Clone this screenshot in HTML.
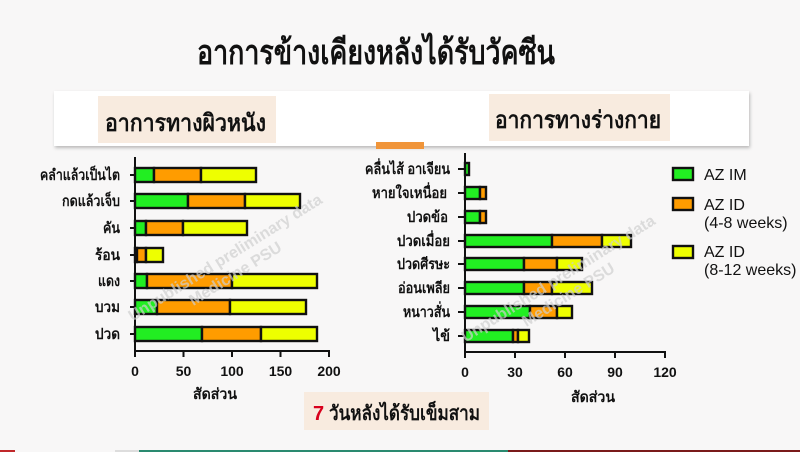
<!DOCTYPE html>
<html><head><meta charset="utf-8"><style>
html,body{margin:0;padding:0;background:#f8f7f7;}
svg{display:block;}
.th{font-family:"Liberation Sans","Noto Sans CJK SC",sans-serif;}
.thb{font-family:"Liberation Sans","Noto Sans CJK SC",sans-serif;font-weight:bold;}
.num{font-family:"Liberation Sans",sans-serif;font-weight:bold;font-size:14px;fill:#111;}
.lg{font-family:"Liberation Sans",sans-serif;font-size:16px;fill:#111;}
.wm{font-family:"Liberation Sans",sans-serif;font-weight:bold;font-size:16px;fill:#cfcfcf;fill-opacity:0.7;}
</style></head><body>
<svg width="800" height="452" viewBox="0 0 800 452" xmlns="http://www.w3.org/2000/svg">
<defs>
<filter id="sh" x="-5%" y="-20%" width="110%" height="150%">
<feDropShadow dx="1" dy="2" stdDeviation="1.5" flood-color="#000" flood-opacity="0.25"/>
</filter>
</defs>
<rect x="0" y="0" width="800" height="452" fill="#f8f7f7"/>

<!-- title -->
<text class="thb" x="197" y="64" font-size="34" fill="#111" textLength="358" lengthAdjust="spacingAndGlyphs">อาการข้างเคียงหลังได้รับวัคซีน</text>

<!-- header panel -->
<rect x="54" y="91" width="695" height="55" fill="#ffffff" filter="url(#sh)"/>
<rect x="98" y="96" width="178" height="47" fill="#f8ebdf"/>
<text class="thb" x="105" y="131" font-size="24" fill="#111" textLength="161" lengthAdjust="spacingAndGlyphs">อาการทางผิวหนัง</text>
<rect x="489" y="94" width="181" height="47" fill="#f8ebdf"/>
<text class="thb" x="495" y="128" font-size="24" fill="#111" textLength="166" lengthAdjust="spacingAndGlyphs">อาการทางร่างกาย</text>
<rect x="376" y="142" width="48" height="7" fill="#f0953a"/>

<!-- LEFT CHART -->
<g stroke="#111" stroke-width="2.4">
<rect x="135" y="168" width="19" height="14" fill="#22ee22"/>
<rect x="154" y="168" width="47" height="14" fill="#ff9c00"/>
<rect x="201" y="168" width="55" height="14" fill="#eeff00"/>
<rect x="135" y="194" width="53" height="14" fill="#22ee22"/>
<rect x="188" y="194" width="57" height="14" fill="#ff9c00"/>
<rect x="245" y="194" width="55" height="14" fill="#eeff00"/>
<rect x="135" y="221" width="11" height="14" fill="#22ee22"/>
<rect x="146" y="221" width="37" height="14" fill="#ff9c00"/>
<rect x="183" y="221" width="64" height="14" fill="#eeff00"/>
<rect x="135" y="248" width="2" height="14" fill="#22ee22"/>
<rect x="137" y="248" width="9" height="14" fill="#ff9c00"/>
<rect x="146" y="248" width="17" height="14" fill="#eeff00"/>
<rect x="135" y="274" width="12" height="14" fill="#22ee22"/>
<rect x="147" y="274" width="85" height="14" fill="#ff9c00"/>
<rect x="232" y="274" width="85" height="14" fill="#eeff00"/>
<rect x="135" y="300" width="22" height="14" fill="#22ee22"/>
<rect x="157" y="300" width="73" height="14" fill="#ff9c00"/>
<rect x="230" y="300" width="76" height="14" fill="#eeff00"/>
<rect x="135" y="327" width="67" height="14" fill="#22ee22"/>
<rect x="202" y="327" width="59" height="14" fill="#ff9c00"/>
<rect x="261" y="327" width="56" height="14" fill="#eeff00"/>
</g>
<g stroke="#111" stroke-width="2" fill="none">
<line x1="135" y1="157" x2="135" y2="351"/>
<line x1="134" y1="351" x2="330" y2="351"/>
<line x1="135" y1="351" x2="135" y2="357"/>
<line x1="183.5" y1="351" x2="183.5" y2="357"/>
<line x1="232" y1="351" x2="232" y2="357"/>
<line x1="280.5" y1="351" x2="280.5" y2="357"/>
<line x1="329" y1="351" x2="329" y2="357"/>
<line x1="130" y1="175" x2="135" y2="175"/>
<line x1="130" y1="201" x2="135" y2="201"/>
<line x1="130" y1="228" x2="135" y2="228"/>
<line x1="130" y1="255" x2="135" y2="255"/>
<line x1="130" y1="281" x2="135" y2="281"/>
<line x1="130" y1="307" x2="135" y2="307"/>
<line x1="130" y1="334" x2="135" y2="334"/>
</g>
<g class="num" text-anchor="middle">
<text x="135" y="376">0</text>
<text x="183.5" y="376">50</text>
<text x="232" y="376">100</text>
<text x="280.5" y="376">150</text>
<text x="329" y="376">200</text>
</g>
<g class="thb" font-size="15" fill="#111">
<text x="40" y="180" textLength="80" lengthAdjust="spacingAndGlyphs">คลำแล้วเป็นไต</text>
<text x="62" y="206" textLength="58" lengthAdjust="spacingAndGlyphs">กดแล้วเจ็บ</text>
<text x="103" y="233" textLength="17" lengthAdjust="spacingAndGlyphs">คัน</text>
<text x="95" y="260" textLength="25" lengthAdjust="spacingAndGlyphs">ร้อน</text>
<text x="98" y="286" textLength="22" lengthAdjust="spacingAndGlyphs">แดง</text>
<text x="95" y="312" textLength="25" lengthAdjust="spacingAndGlyphs">บวม</text>
<text x="95" y="339" textLength="25" lengthAdjust="spacingAndGlyphs">ปวด</text>
</g>
<text class="thb" x="193" y="399" font-size="15" fill="#111" textLength="44" lengthAdjust="spacingAndGlyphs">สัดส่วน</text>

<!-- RIGHT CHART -->
<g stroke="#111" stroke-width="2.4">
<rect x="465" y="163" width="4" height="12" fill="#22ee22"/>
<rect x="465" y="187" width="15" height="12" fill="#22ee22"/>
<rect x="480" y="187" width="6" height="12" fill="#ff9c00"/>
<rect x="465" y="211" width="15" height="12" fill="#22ee22"/>
<rect x="480" y="211" width="6" height="12" fill="#ff9c00"/>
<rect x="465" y="235" width="87" height="12" fill="#22ee22"/>
<rect x="552" y="235" width="50" height="12" fill="#ff9c00"/>
<rect x="602" y="235" width="29" height="12" fill="#eeff00"/>
<rect x="465" y="258" width="59" height="12" fill="#22ee22"/>
<rect x="524" y="258" width="33" height="12" fill="#ff9c00"/>
<rect x="557" y="258" width="25" height="12" fill="#eeff00"/>
<rect x="465" y="282" width="59" height="12" fill="#22ee22"/>
<rect x="524" y="282" width="28" height="12" fill="#ff9c00"/>
<rect x="552" y="282" width="40" height="12" fill="#eeff00"/>
<rect x="465" y="306" width="65" height="12" fill="#22ee22"/>
<rect x="530" y="306" width="27" height="12" fill="#ff9c00"/>
<rect x="557" y="306" width="15" height="12" fill="#eeff00"/>
<rect x="465" y="330" width="48" height="12" fill="#22ee22"/>
<rect x="513" y="330" width="5" height="12" fill="#ff9c00"/>
<rect x="518" y="330" width="11" height="12" fill="#eeff00"/>
</g>
<g stroke="#111" stroke-width="2" fill="none">
<line x1="465" y1="153" x2="465" y2="352"/>
<line x1="464" y1="352" x2="666" y2="352"/>
<line x1="465" y1="352" x2="465" y2="358"/>
<line x1="515" y1="352" x2="515" y2="358"/>
<line x1="565" y1="352" x2="565" y2="358"/>
<line x1="615" y1="352" x2="615" y2="358"/>
<line x1="665" y1="352" x2="665" y2="358"/>
<line x1="458" y1="169" x2="465" y2="169"/>
<line x1="458" y1="193" x2="465" y2="193"/>
<line x1="458" y1="217" x2="465" y2="217"/>
<line x1="458" y1="241" x2="465" y2="241"/>
<line x1="458" y1="264" x2="465" y2="264"/>
<line x1="458" y1="288" x2="465" y2="288"/>
<line x1="458" y1="312" x2="465" y2="312"/>
<line x1="458" y1="336" x2="465" y2="336"/>
</g>
<g class="num" text-anchor="middle">
<text x="465" y="377">0</text>
<text x="515" y="377">30</text>
<text x="565" y="377">60</text>
<text x="615" y="377">90</text>
<text x="665" y="377">120</text>
</g>
<g class="thb" font-size="15" fill="#111">
<text x="365" y="174" textLength="85" lengthAdjust="spacingAndGlyphs">คลื่นไส้ อาเจียน</text>
<text x="372" y="198" textLength="75" lengthAdjust="spacingAndGlyphs">หายใจเหนื่อย</text>
<text x="407" y="222" textLength="41" lengthAdjust="spacingAndGlyphs">ปวดข้อ</text>
<text x="397" y="246" textLength="53" lengthAdjust="spacingAndGlyphs">ปวดเมื่อย</text>
<text x="397" y="269" textLength="53" lengthAdjust="spacingAndGlyphs">ปวดศีรษะ</text>
<text x="398" y="293" textLength="52" lengthAdjust="spacingAndGlyphs">อ่อนเพลีย</text>
<text x="403" y="317" textLength="47" lengthAdjust="spacingAndGlyphs">หนาวสั่น</text>
<text x="433" y="341" textLength="17" lengthAdjust="spacingAndGlyphs">ไข้</text>
</g>
<text class="thb" x="571" y="402" font-size="15" fill="#111" textLength="44" lengthAdjust="spacingAndGlyphs">สัดส่วน</text>

<!-- legend -->
<g stroke="#111" stroke-width="2.4">
<rect x="673" y="168" width="20" height="12" fill="#22ee22"/>
<rect x="673" y="198" width="20" height="12" fill="#ff9c00"/>
<rect x="673" y="246" width="20" height="12" fill="#eeff00"/>
</g>
<text class="lg" x="704" y="180">AZ IM</text>
<text class="lg" x="704" y="210">AZ ID</text>
<text class="lg" x="704" y="228" font-size="15.5">(4-8 weeks)</text>
<text class="lg" x="704" y="257">AZ ID</text>
<text class="lg" x="704" y="275" font-size="15.5">(8-12 weeks)</text>

<!-- watermarks -->
<g transform="translate(228,262) rotate(-32)">
<text class="wm" x="0" y="0" text-anchor="middle">Unpublished preliminary data</text>
<text class="wm" x="0" y="19" text-anchor="middle">Medicine PSU</text>
</g>
<g transform="translate(561,283) rotate(-32)">
<text class="wm" x="0" y="0" text-anchor="middle">Unpublished preliminary data</text>
<text class="wm" x="0" y="19" text-anchor="middle">Medicine PSU</text>
</g>

<!-- bottom box -->
<rect x="304" y="392" width="185" height="38" fill="#f8ebdf"/>
<text class="thb" x="313" y="420" font-size="20" fill="#d8001c">7</text>
<text class="thb" x="329" y="420" font-size="20" fill="#111" textLength="151" lengthAdjust="spacingAndGlyphs">วันหลังได้รับเข็มสาม</text>

<!-- bottom strip -->
<rect x="0" y="450" width="15" height="2" fill="#c0282a"/>
<rect x="115" y="450" width="24" height="2" fill="#dddddd"/>
<rect x="139" y="450" width="369" height="2" fill="#2a8a70"/>
<rect x="508" y="450" width="292" height="2" fill="#7a1a1a"/>
</svg>
</body></html>
